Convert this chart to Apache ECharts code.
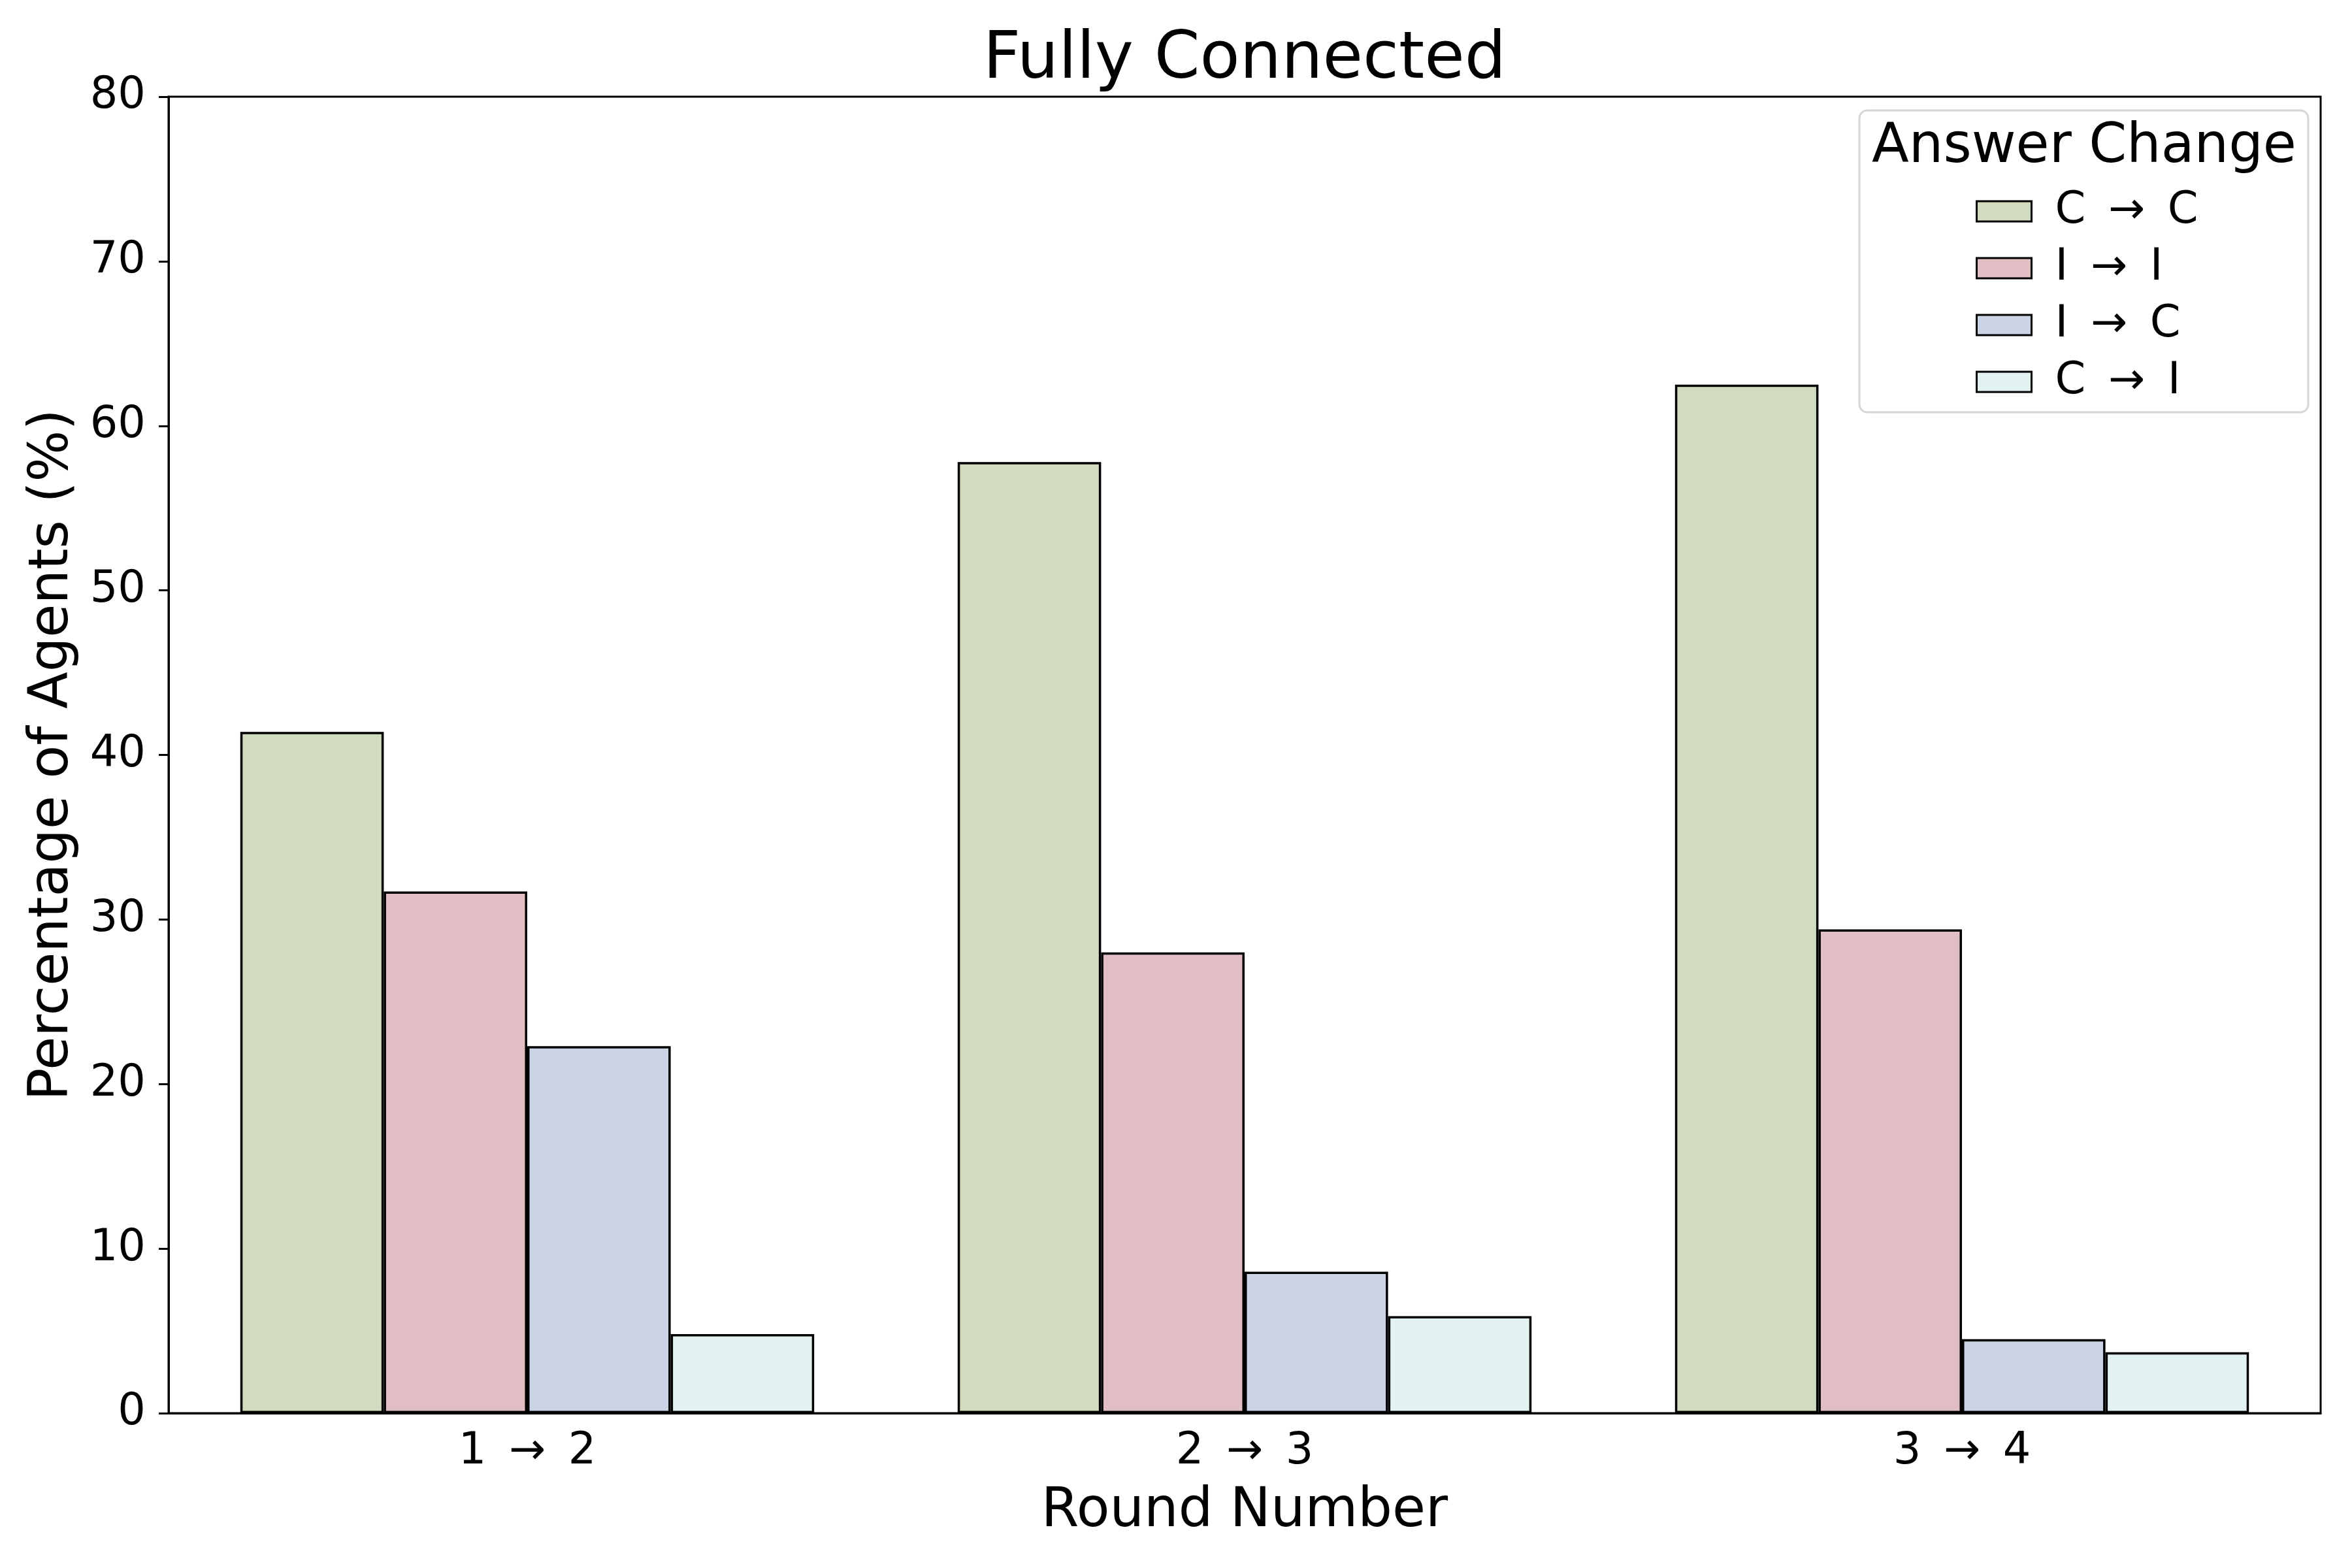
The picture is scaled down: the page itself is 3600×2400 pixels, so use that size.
<html>
<head>
<meta charset="utf-8">
<script src="https://cdn.jsdelivr.net/npm/echarts@6/dist/echarts.min.js"></script>
<style>
  body { margin: 0; background: #fff; }
  #main { width: 3600px; height: 2400px; }
</style>
</head>
<body>
<div id="main"></div>
<script type="text/javascript">
// rounds on the x axis (thin spaces round the arrow, like the math arrow spacing)
var rounds = ['1 \u2009\u2192\u2009 2', '2 \u2009\u2192\u2009 3', '3 \u2009\u2192\u2009 4'];
// answer change kinds, same order as the legend
var changeNames = ['C \u2009\u2192\u2009 C', 'I \u2009\u2192\u2009 I', 'I \u2009\u2192\u2009 C', 'C \u2009\u2192\u2009 I'];
// percentage of agents per round
var cToC = [41.4, 57.8, 62.5];
var iToI = [31.7, 28.0, 29.4];
var iToC = [22.3, 8.6, 4.5];
var cToI = [4.8, 5.9, 3.7];
var yTicks = { min: 0, max: 80, step: 10 };

var colors = ['#d0dbbf', '#e1bec3', '#cad4e5', '#e2f2f1'];
var font = 'DejaVu Sans';

var myChart = echarts.init(document.getElementById('main'), null, { renderer: 'canvas' });

var values = [cToC, iToI, iToC, cToI];
var series = [];
for (var i = 0; i < changeNames.length; i++) {
    series.push({
        name: changeNames[i],
        type: 'bar',
        data: values[i],
        barGap: '0%',
        barCategoryGap: '20%',
        itemStyle: { color: colors[i], borderColor: '#000', borderWidth: 3.5 }
    });
}

var option = {
    animation: false,
    backgroundColor: '#fff',
    title: [
        {
            text: 'Fully Connected',
            left: 1905, top: 43, padding: 0, textAlign: 'center',
            textStyle: { fontFamily: font, fontSize: 100, fontWeight: 'normal', color: '#000', lineHeight: 100 }
        },
        {
            text: 'Answer Change',
            left: 3190, top: 185, padding: 0, textAlign: 'center', z: 10,
            textStyle: { fontFamily: font, fontSize: 83, fontWeight: 'normal', color: '#000', lineHeight: 83 }
        }
    ],
    graphic: [{
        type: 'rect', z: 5,
        shape: { x: 2846, y: 169, width: 687, height: 462, r: 12 },
        style: { fill: 'rgba(255,255,255,0.8)', stroke: '#d6d6d6', lineWidth: 3 }
    }],
    legend: {
        data: changeNames,
        orient: 'vertical',
        left: 3024, top: 290, padding: 0, z: 10,
        itemWidth: 84, itemHeight: 31, itemGap: 20,
        icon: 'rect',
        itemStyle: { borderColor: '#000', borderWidth: 3 },
        textStyle: { fontFamily: font, fontSize: 67, color: '#000', lineHeight: 67, padding: [0, 0, 0, 31] }
    },
    grid: {
        left: 258, right: 48, top: 148, bottom: 237,
        show: true, borderColor: '#000', borderWidth: 3, backgroundColor: 'transparent'
    },
    xAxis: {
        type: 'category',
        data: rounds,
        name: 'Round Number',
        nameLocation: 'middle',
        nameGap: 110,
        nameTextStyle: { fontFamily: font, fontSize: 83, color: '#000' },
        axisLine: { lineStyle: { color: '#000', width: 3 } },
        axisTick: { alignWithLabel: true, length: 15, lineStyle: { color: '#000', width: 3 } },
        axisLabel: { fontFamily: font, fontSize: 67, color: '#000', margin: 26 },
        splitLine: { show: false }
    },
    yAxis: {
        type: 'value',
        min: yTicks.min, max: yTicks.max, interval: yTicks.step,
        name: 'Percentage of Agents (%)',
        nameLocation: 'middle',
        nameGap: 135,
        nameTextStyle: { fontFamily: font, fontSize: 83, color: '#000' },
        axisLine: { show: true, lineStyle: { color: '#000', width: 3 } },
        axisTick: { show: true, length: 15, lineStyle: { color: '#000', width: 3 } },
        axisLabel: { fontFamily: font, fontSize: 67, color: '#000', margin: 35 },
        splitLine: { show: false }
    },
    series: series
};
myChart.setOption(option);
</script>
</body>
</html>
